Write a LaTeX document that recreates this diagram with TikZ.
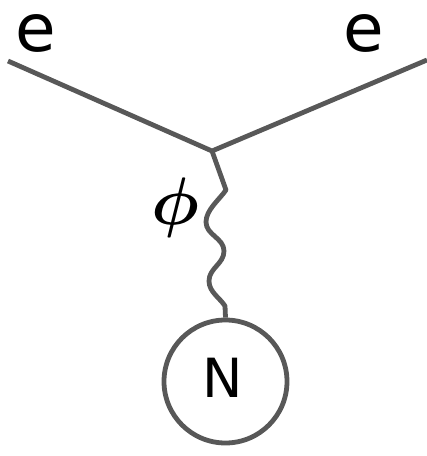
\documentclass[tikz,border=0pt]{standalone}
\usepackage{fontspec}
\setmainfont{DejaVu Sans}
\begin{document}
\begin{tikzpicture}[x=1pt,y=-1pt,
  line/.style={draw={rgb,255:red,88;green,88;blue,88},line width=4.8pt},
  lbl/.style={inner sep=0pt,anchor=base,text=black}]
\useasboundingbox (0,0) rectangle (427,456);
% fermion legs and vertex
\coordinate (in) at (8,61);
\coordinate (out) at (427,60);
\coordinate (v) at (212,151);
\node[lbl,font=\fontsize{66}{66}\selectfont] (e1) at (35.5,51.5) {e};
\node[lbl,font=\fontsize{66}{66}\selectfont] (e2) at (363.5,51.5) {e};
\draw[line,line join=miter] (in) -- (v) -- (out);
% nucleus
\node[line,circle,minimum size=123pt,inner sep=0pt] (N) at (225.5,381.5) {};
\node[lbl,font=\fontsize{54}{54}\selectfont] (Nl) at (223,397) {N};
% scalar exchange line
\coordinate (a) at (226,190);
\coordinate (l1) at (206,222);
\coordinate (r1) at (224,251);
\coordinate (l2) at (209,281);
\coordinate (b) at (225,306);
\draw[line,line join=round] (v) -- (a)
  .. controls (219,200) and (206,210) .. (l1)
  .. controls (206,235) and (224,238) .. (r1)
  .. controls (224,264) and (209,268) .. (l2)
  .. controls (209,292) and (220,298) .. (b)
  -- (N.north);
\node[inner sep=0pt,font=\Huge\boldmath,scale=2.7] (phi) at (175,207.5) {$\phi$};
\end{tikzpicture}
\end{document}
